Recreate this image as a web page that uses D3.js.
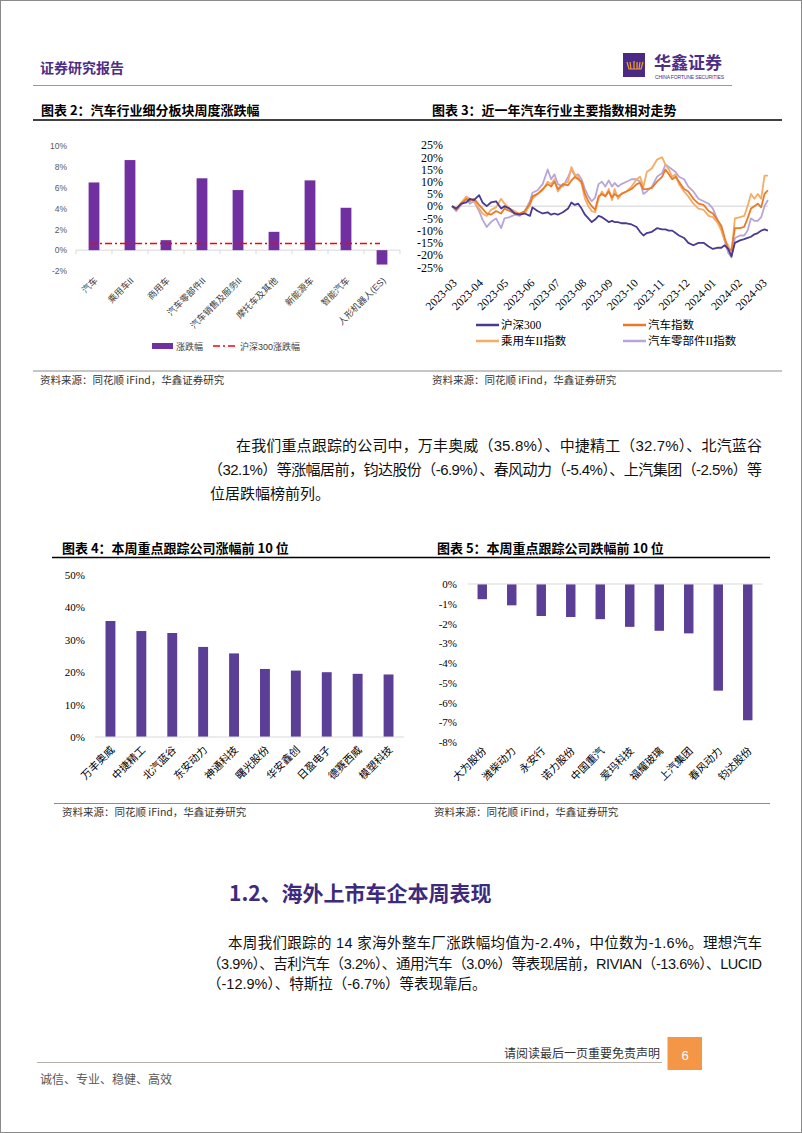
<!DOCTYPE html>
<html>
<head>
<meta charset="utf-8">
<script src="https://cdn.jsdelivr.net/npm/d3@7"></script>
<style>
  body { margin: 0; background: #fff; }
  svg { display: block; }
</style>
</head>
<body>
<div id="page"></div>
<script>
// ---- chart 2: sector weekly change ----
const sectorNames = ["汽车", "乘用车II", "商用车", "汽车零部件II", "汽车销售及服务II", "摩托车及其他", "新能源车", "智能汽车", "人形机器人(ES)"];
const sectorChange = [6.5, 8.65, 0.96, 6.9, 5.77, 1.76, 6.7, 4.07, -1.38];
const hs300Change = 0.64;
const sectorTicks = [-2, 0, 2, 4, 6, 8, 10];

// ---- chart 3: relative index trend ----
const trendDates = ["2023-03-01","2023-03-06","2023-03-12","2023-03-18","2023-03-22","2023-03-27","2023-04-02","2023-04-06","2023-04-11","2023-04-16","2023-04-22","2023-04-28","2023-05-02","2023-05-08","2023-05-14","2023-05-20","2023-05-26","2023-06-01","2023-06-04","2023-06-10","2023-06-16","2023-06-22","2023-06-26","2023-06-30","2023-07-04","2023-07-10","2023-07-16","2023-07-20","2023-07-24","2023-07-28","2023-08-01","2023-08-05","2023-08-09","2023-08-13","2023-08-17","2023-08-21","2023-08-25","2023-08-29","2023-09-02","2023-09-06","2023-09-09","2023-09-13","2023-09-17","2023-09-23","2023-09-29","2023-10-05","2023-10-09","2023-10-13","2023-10-17","2023-10-23","2023-10-29","2023-11-04","2023-11-08","2023-11-12","2023-11-16","2023-11-20","2023-11-24","2023-11-30","2023-12-05","2023-12-11","2023-12-17","2023-12-23","2023-12-29","2024-01-03","2024-01-09","2024-01-13","2024-01-17","2024-01-21","2024-01-25","2024-01-29","2024-02-04","2024-02-09","2024-02-13","2024-02-17","2024-02-21","2024-02-25","2024-02-29","2024-03-04","2024-03-08"];
const hs300Index = [0,-1,1,1.5,3,2.5, 4.5,1.5,0,1.5,2,-1, 0,-1,-3,-3.5,-3,-4, -0.5,-2,-3,-2.5,-3.5,-3, -3.5,-2.5,-1,1.5,0.5,1,-1, -3.5,-5,-6.5,-5.5,-4,-4.5,-5.5,-6.5, -6,-6.5,-6.5,-7,-7,-7.5, -8.5,-10.5,-12,-11,-10.5,-9,-9.5, -9.5,-10,-10,-11,-12,-13, -15,-16,-15,-15,-16.5,-17.5, -17,-17,-16,-17.5,-20.5,-15, -14,-13.5,-13,-12.5,-11.5,-11,-10,-9.5,-10];
const autoIndex = [0,-1.5,1,3,2,3, 0.5,-1,-3,-3.5,-2,-3, -1,-2,-3,-3,-2,1, 4,5,7,9,8,10, 7,9,8.5,10.5,12,11,10, 5,2,0,-1.5,4,5,4,6, 3.5,5,4,5,6,7, 9,9.5,7,7,7.5,10,12, 15,13,11,12,10,7, 6,3,1,0.5,-2,-3, -6,-8,-13,-17.5,-18,-9, -9,-8.5,-5,-1,0,1,-0.5,5,6.5];
const passengerIndex = [0,-1,1.5,4,3,2, -1,-3,-4,-1.5,-0.5,3, 1,-1,-2,-3.5,-3,0.5, 3,5,6.5,10,9,11, 6,9,10,16,13,12,9, 3,0,-2,-2.5,3,6,4,7, 2.5,7,3,5,6,8, 11,12,8,14,15.5,19,20, 17,15,12,13,9,6, 4,1,-1,-1.5,-4,-4.5, -7,-10,-14,-16,-19,-5, -4.5,-4,0,5,3,5,3,12.5,12.5];
const partsIndex = [0,-2,0.5,3,1,2, -2,-5.5,-8.5,-6.5,-5,-9, -5,-4.5,-3.5,-4,-2,2, 5.5,6.5,9,15,11,13, 9,8,12,15,12.5,13,11, 7,4,2,3.5,9,10,8,10.5, 8,9.5,8,9,10,11, 11,10,5,6,8,12,13.5, 17,16,15,14,12,11, 8,6,3,2,1,-1, -6,-9,-14,-19,-21,-13, -12,-12,-10,-5,-6,-6,-4.5,0,2.5];
const trendTicks = [-25, -20, -15, -10, -5, 0, 5, 10, 15, 20, 25];
const trendNames = ["沪深300", "汽车指数", "乘用车II指数", "汽车零部件II指数"];

// ---- chart 4 / 5: top gainers and losers ----
const gainerNames = ["万丰奥威", "中捷精工", "北汽蓝谷", "东安动力", "神通科技", "曙光股份", "华安鑫创", "日盈电子", "德赛西威", "模塑科技"];
const gainerChange = [35.8, 32.7, 32.1, 27.8, 25.8, 21.0, 20.5, 20.0, 19.5, 19.3];
const gainerTicks = [0, 10, 20, 30, 40, 50];
const loserNames = ["大为股份", "潍柴动力", "永安行", "诺力股份", "中国重汽", "爱玛科技", "福耀玻璃", "上汽集团", "春风动力", "钧达股份"];
const loserChange = [-0.77, -1.08, -1.62, -1.67, -1.78, -2.17, -2.37, -2.5, -5.4, -6.9];
const loserTicks = [-8, -7, -6, -5, -4, -3, -2, -1, 0];

const CJK = "'Noto Sans CJK SC', sans-serif";
const SANS = "'Liberation Sans', 'Noto Sans CJK SC', sans-serif";
const SERIF = "'Liberation Serif', 'Noto Sans CJK SC', serif";
const PURPLE = "#4e2d86";

const svg = d3.select("#page").append("svg")
  .attr("width", 802).attr("height", 1133);

svg.append("rect").attr("x", 0.5).attr("y", 0.5).attr("width", 801).attr("height", 1132)
  .attr("fill", "#fff").attr("stroke", "#8a8a8a");

function hline(x1, x2, y, color, w) {
  svg.append("line").attr("x1", x1).attr("x2", x2).attr("y1", y).attr("y2", y)
    .attr("stroke", color).attr("stroke-width", w);
}
function label(x, y, str, size, opts = {}) {
  return svg.append("text").attr("x", x).attr("y", y).text(str)
    .attr("font-family", opts.family || CJK)
    .attr("font-size", size)
    .attr("font-weight", opts.weight || 400)
    .attr("fill", opts.color || "#000")
    .attr("text-anchor", opts.anchor || "start");
}

// header
label(40, 73, "证券研究报告", 14, { weight: 700, color: PURPLE });
hline(33, 732, 85.5, "#9a9a9a", 1);
svg.append("rect").attr("x", 623).attr("y", 53).attr("width", 22).attr("height", 24).attr("fill", "#4b2a86");
svg.append("path").attr("d", "M627,62 L629,69 L641,69 L643,62 M630,62 L631,69 M634,61 L634,69 M637,62 L637,69 M640,62 L639,69")
  .attr("stroke", "#f0a02c").attr("stroke-width", 1.2).attr("fill", "none");
label(654, 68.5, "华鑫证券", 17, { weight: 700, color: PURPLE });
label(655, 78.5, "CHINA FORTUNE SECURITIES", 5, { family: SANS, color: "#4b2a86" }).attr("textLength", 69);

// chart titles
label(41, 115, "图表 2：汽车行业细分板块周度涨跌幅", 13, { weight: 700 });
label(432, 115, "图表 3：近一年汽车行业主要指数相对走势", 13, { weight: 700 });
hline(33, 782, 120, "#000", 1.3);

// ================= chart 2 =================
{
  const x = d3.scaleBand().domain(sectorNames).range([76, 400]).paddingInner(0.7).paddingOuter(0.35);
  const y = d3.scaleLinear().domain([-2, 10]).range([271, 146]);
  const g = svg.append("g");

  const yAxis = g.append("g").attr("transform", "translate(70,0)")
    .call(d3.axisLeft(y).tickValues(sectorTicks).tickFormat(d => d + "%").tickSize(0).tickPadding(3));
  yAxis.select(".domain").remove();
  yAxis.selectAll("text").attr("font-family", SANS).attr("font-size", 8.5).attr("fill", "#595959");

  g.append("line").attr("x1", 76).attr("x2", 400).attr("y1", y(0)).attr("y2", y(0))
    .attr("stroke", "#d9d9d9").attr("stroke-width", 1);
  g.selectAll(".tk").data(d3.range(sectorNames.length + 1)).enter().append("line")
    .attr("x1", i => 76 + i * x.step()).attr("x2", i => 76 + i * x.step())
    .attr("y1", y(0)).attr("y2", y(0) + 4).attr("stroke", "#d9d9d9");

  g.selectAll(".bar").data(sectorNames).enter().append("rect")
    .attr("x", d => x(d)).attr("width", x.bandwidth())
    .attr("y", (d, i) => y(Math.max(0, sectorChange[i])))
    .attr("height", (d, i) => Math.abs(y(sectorChange[i]) - y(0)))
    .attr("fill", "#7030a0");

  const first = sectorNames[0], last = sectorNames[sectorNames.length - 1];
  g.append("line").attr("x1", x(first) + x.bandwidth() / 2 - 4).attr("x2", x(last) + x.bandwidth() / 2 - 2)
    .attr("y1", y(hs300Change)).attr("y2", y(hs300Change))
    .attr("stroke", "#ff0000").attr("stroke-width", 1.6).attr("stroke-dasharray", "7,3,2,3");

  const xAxis = g.append("g").attr("transform", "translate(0,281)")
    .call(d3.axisBottom(x).tickSize(0));
  xAxis.select(".domain").remove();
  xAxis.selectAll("text").attr("x", 3).attr("y", 0).attr("dy", "0.35em")
    .attr("text-anchor", "end").attr("transform", "rotate(-45)")
    .attr("font-family", SANS).attr("font-size", 9).attr("fill", "#404040");

  g.append("rect").attr("x", 152).attr("y", 343).attr("width", 21).attr("height", 6).attr("fill", "#7030a0");
  label(176, 349.5, "涨跌幅", 9, { family: SANS, color: "#404040" });
  g.append("line").attr("x1", 213).attr("x2", 238).attr("y1", 346).attr("y2", 346)
    .attr("stroke", "#ff0000").attr("stroke-width", 1.6).attr("stroke-dasharray", "7,3,2,3");
  label(240, 349.5, "沪深300涨跌幅", 9, { family: SANS, color: "#404040" });
}

// ================= chart 3 =================
{
  const parse = d3.timeParse("%Y-%m-%d");
  const dates = trendDates.map(parse);
  const x = d3.scaleTime().domain([parse("2023-03-01"), parse("2024-03-01")]).range([452, 762]);
  const y = d3.scaleLinear().domain([-25, 25]).range([267.3, 145]);
  const g = svg.append("g");

  const yAxis = g.append("g").attr("transform", "translate(447,0)")
    .call(d3.axisLeft(y).tickValues(trendTicks).tickFormat(d => d + "%").tickSize(0).tickPadding(4));
  yAxis.select(".domain").remove();
  yAxis.selectAll("text").attr("font-family", SERIF).attr("font-size", 12).attr("fill", "#000");

  g.append("line").attr("x1", 452).attr("x2", 768).attr("y1", y(0)).attr("y2", y(0))
    .attr("stroke", "#d0d0d0").attr("stroke-width", 1);

  const series = [
    { name: trendNames[0], values: hs300Index, color: "#4a3990" },
    { name: trendNames[1], values: autoIndex, color: "#eb7a26" },
    { name: trendNames[2], values: passengerIndex, color: "#f7ab63" },
    { name: trendNames[3], values: partsIndex, color: "#b7a5d8" }
  ];
  const line = d3.line().x((d, i) => x(dates[i])).y(d => y(d));
  const drawOrder = [3, 2, 1, 0];
  drawOrder.forEach(k => {
    g.append("path").attr("d", line(series[k].values))
      .attr("fill", "none").attr("stroke", series[k].color).attr("stroke-width", 1.8)
      .attr("stroke-linejoin", "round");
  });

  const xAxis = g.append("g").attr("transform", "translate(0,283)")
    .call(d3.axisBottom(x).ticks(d3.timeMonth.every(1)).tickFormat(d3.timeFormat("%Y-%m")).tickSize(0));
  xAxis.select(".domain").remove();
  xAxis.selectAll("text").attr("x", 3).attr("y", 0).attr("dy", "0.35em")
    .attr("text-anchor", "end").attr("transform", "rotate(-45)")
    .attr("font-family", SERIF).attr("font-size", 11.5).attr("fill", "#000");

  const legendPos = [[476, 325], [623, 325], [476, 341], [623, 341]];
  series.forEach((s, i) => {
    const [lx, ly] = legendPos[i];
    g.append("line").attr("x1", lx).attr("x2", lx + 23).attr("y1", ly).attr("y2", ly)
      .attr("stroke", s.color).attr("stroke-width", 2.5);
    label(lx + 25, ly + 4, s.name, 11.5, { family: SERIF });
  });
}

// sources (top)
hline(33, 782, 371, "#8c8c8c", 1);
label(40, 384, "资料来源：同花顺 iFind，华鑫证券研究", 10.5, { color: "#333" });
label(432, 384, "资料来源：同花顺 iFind，华鑫证券研究", 10.5, { color: "#333" });

// paragraph 1
function textLine(x, y, str, size, width) {
  const t = label(x, y, str, size, { family: SANS, color: "#111" });
  if (width) t.attr("textLength", width).attr("lengthAdjust", "spacing");
  return t;
}
textLine(236, 451, "在我们重点跟踪的公司中，万丰奥威（35.8%）、中捷精工（32.7%）、北汽蓝谷", 15, 526);
textLine(208, 475, "（32.1%）等涨幅居前，钧达股份（-6.9%）、春风动力（-5.4%）、上汽集团（-2.5%）等", 15, 554);
textLine(210, 498.5, "位居跌幅榜前列。", 15);

// chart 4 / 5 titles
label(62, 553, "图表 4：本周重点跟踪公司涨幅前 10 位", 13, { weight: 700 });
label(437, 553, "图表 5：本周重点跟踪公司跌幅前 10 位", 13, { weight: 700 });
hline(52, 770, 557.5, "#000", 1.3);

function companyBars(names, values, ticks, domain, yRange, xRange, axisX, color, labelY) {
  const x = d3.scaleBand().domain(names).range(xRange).paddingInner(0.68).paddingOuter(0.34);
  const y = d3.scaleLinear().domain(domain).range(yRange);
  const g = svg.append("g");

  const yAxis = g.append("g").attr("transform", `translate(${axisX},0)`)
    .call(d3.axisLeft(y).tickValues(ticks).tickFormat(d => d + "%").tickSize(0).tickPadding(3));
  yAxis.select(".domain").remove();
  yAxis.selectAll("text").attr("font-family", SERIF).attr("font-size", 11).attr("fill", "#000");

  g.selectAll(".bar").data(names).enter().append("rect")
    .attr("x", d => x(d)).attr("width", x.bandwidth())
    .attr("y", (d, i) => y(Math.max(0, values[i])))
    .attr("height", (d, i) => Math.abs(y(values[i]) - y(0)))
    .attr("fill", color);

  g.append("line").attr("x1", xRange[0]).attr("x2", xRange[1]).attr("y1", y(0)).attr("y2", y(0))
    .attr("stroke", "#d9d9d9").attr("stroke-width", 1);

  const xAxis = g.append("g").attr("transform", `translate(0,${labelY})`)
    .call(d3.axisBottom(x).tickSize(0));
  xAxis.select(".domain").remove();
  xAxis.selectAll("text").attr("x", 3).attr("y", 0).attr("dy", "0.35em")
    .attr("text-anchor", "end").attr("transform", "rotate(-45)")
    .attr("font-family", CJK).attr("font-size", 10.5).attr("fill", "#000");
}
companyBars(gainerNames, gainerChange, gainerTicks, [0, 50], [737, 575], [95, 404], 88, "#5b3f97", 750);
companyBars(loserNames, loserChange, loserTicks, [-8, 0], [742, 584], [467.5, 762.5], 460, "#5b3f97", 751);

// sources (bottom)
hline(54, 770, 803.5, "#8c8c8c", 1);
label(62, 816, "资料来源：同花顺 iFind，华鑫证券研究", 10.5, { color: "#333" });
label(434, 816, "资料来源：同花顺 iFind，华鑫证券研究", 10.5, { color: "#333" });

// section heading + paragraph 2
label(229, 901, "1.2、海外上市车企本周表现", 21, { weight: 700, color: "#3d2a7c" });
textLine(228, 948, "本周我们跟踪的 14 家海外整车厂涨跌幅均值为-2.4%，中位数为-1.6%。理想汽车", 14.5, 534);
textLine(207, 968.5, "（3.9%）、吉利汽车（3.2%）、通用汽车（3.0%）等表现居前，RIVIAN（-13.6%）、LUCID", 14.5, 555);
textLine(207, 988.5, "（-12.9%）、特斯拉（-6.7%）等表现靠后。", 14.5);

// footer
label(660, 1058, "请阅读最后一页重要免责声明", 12, { anchor: "end", color: "#333" });
svg.append("rect").attr("x", 667.5).attr("y", 1037).attr("width", 34.5).attr("height", 33).attr("fill", "#f39646");
label(685, 1059.5, "6", 13, { family: SANS, anchor: "middle", color: "#fff" });
hline(37, 662, 1062.5, "#b5b0a8", 1);
label(40, 1083.5, "诚信、专业、稳健、高效", 12, { color: "#595959" });
</script>
</body>
</html>
